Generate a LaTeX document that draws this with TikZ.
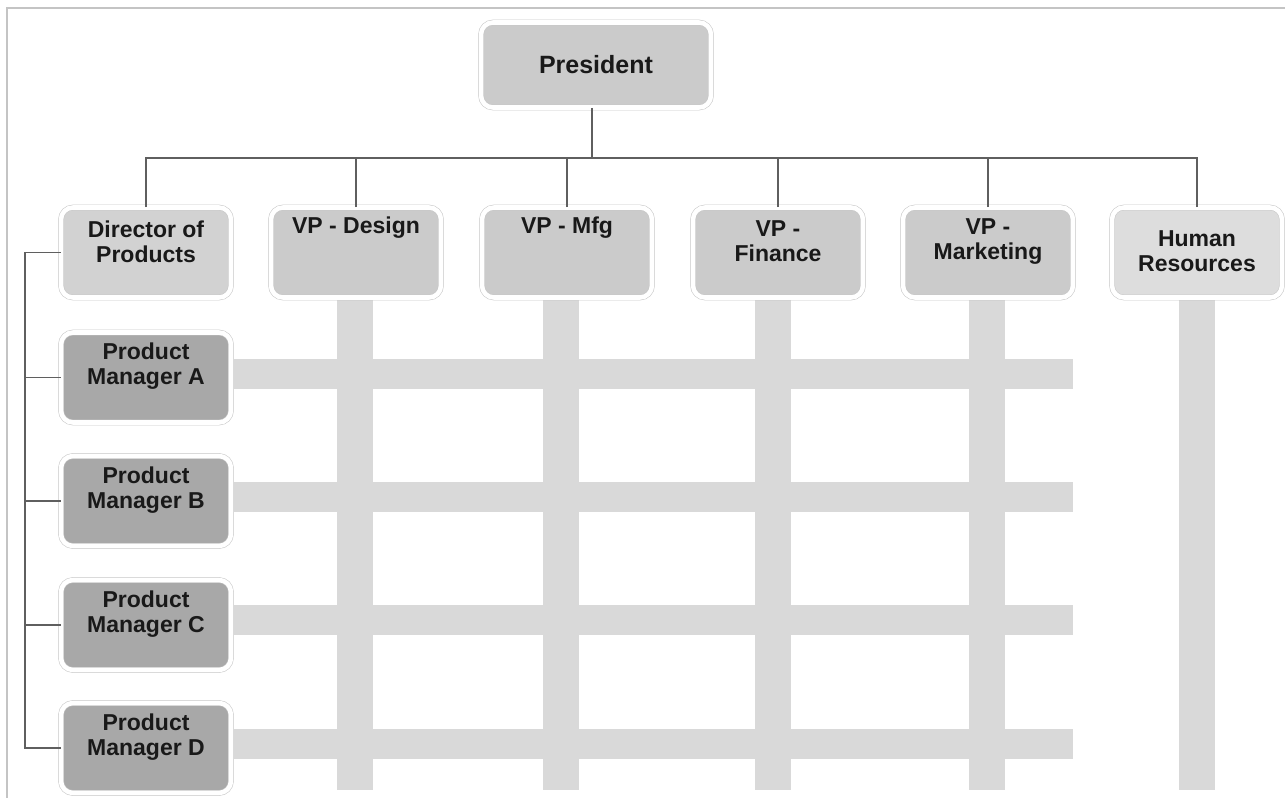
\documentclass[tikz,border=0pt]{standalone}
\usepackage{fontspec}
\setmainfont{Liberation Sans}
\usetikzlibrary{shadows,positioning}

\definecolor{boxgray}{RGB}{203,203,203}
\definecolor{dirgray}{RGB}{210,210,210}
\definecolor{hrgray}{RGB}{221,221,221}
\definecolor{pmgray}{RGB}{168,168,168}
\definecolor{bargray}{RGB}{217,217,217}
\definecolor{linegray}{RGB}{95,95,95}
\definecolor{framegray}{RGB}{196,196,196}

\tikzset{
  orgbox/.style={rectangle, rounded corners=9pt, draw=black!22, line width=0.4pt,
    double=white, double distance=3.4pt,
    fill=boxgray, minimum width=127.5pt, minimum height=67.5pt,
    drop shadow={shadow xshift=0.6pt, shadow yshift=-1.5pt, opacity=0.3, fill=black!45}},
  pmbox/.style={orgbox, fill=pmgray},
  boxtext/.style={align=center, inner sep=0pt, text=black!90,
    font=\fontsize{17.25}{18.75}\selectfont\bfseries},
  tree/.style={draw=linegray, line width=1.1pt}
}

\begin{document}
\begin{tikzpicture}[x=0.75pt,y=0.75pt,yscale=-1,xscale=1]
\useasboundingbox (0,0) rectangle (1285,798);

%frame
\draw [framegray, line width=1.5pt] (7,798) -- (7,8) -- (1285,8);

%matrix bars
\foreach \x in {355,561,773,987,1197}
  \fill [bargray] (\x-18,300) rectangle (\x+18,790);
\foreach \y in {374,497,620,744}
  \fill [bargray] (233,\y-15) rectangle (1073,\y+15);

%boxes
\node [orgbox, minimum width=172.5pt, minimum height=63.75pt] (pres) at (596,65) {};
\node [orgbox, fill=dirgray] (dir) at (146,252.5) {};
\node [orgbox] (des) at (356,252.5) {};
\node [orgbox] (mfg) at (567,252.5) {};
\node [orgbox] (fin) at (778,252.5) {};
\node [orgbox] (mkt) at (988,252.5) {};
\node [orgbox, fill=hrgray] (hr) at (1197,252.5) {};
\node [pmbox] (pmA) at (146,377.5) {};
\node [pmbox] (pmB) at (146,501) {};
\node [pmbox] (pmC) at (146,625) {};
\node [pmbox] (pmD) at (146,748) {};

% Text Node
\node [boxtext, font=\fontsize{18.75}{20}\selectfont\bfseries] (pres-t) at (pres) {President};
\node [boxtext] (dir-t) at (146,241.5) {Director of\\Products};
\node [boxtext] (des-t) at (356,228) {VP - Design};
\node [boxtext] (mfg-t) at (567,228) {VP - Mfg};
\node [boxtext] (fin-t) at (778,241.5) {VP -\\Finance};
\node [boxtext] (mkt-t) at (988,241.5) {VP -\\Marketing};
\node [boxtext] (hr-t) at (1197,251.5) {Human\\Resources};
\node [boxtext] (pmA-t) at (146,366.5) {Product\\Manager A};
\node [boxtext] (pmB-t) at (146,490) {Product\\Manager B};
\node [boxtext] (pmC-t) at (146,614) {Product\\Manager C};
\node [boxtext] (pmD-t) at (146,737) {Product\\Manager D};

%connectors
\coordinate (bus) at (592,158);
\coordinate (spine) at (25,0);
\draw [tree] (bus |- pres.south) -- (bus);
\foreach \n in {dir,des,mfg,fin,mkt,hr}
  \draw [tree] (\n.north) |- (bus);
\draw [tree] (dir.west) -- (dir.west -| spine) -- (pmD.west -| spine) -- (pmD.west);
\foreach \n in {pmA,pmB,pmC}
  \draw [tree] (\n.west) -- (\n.west -| spine);

\end{tikzpicture}
\end{document}
